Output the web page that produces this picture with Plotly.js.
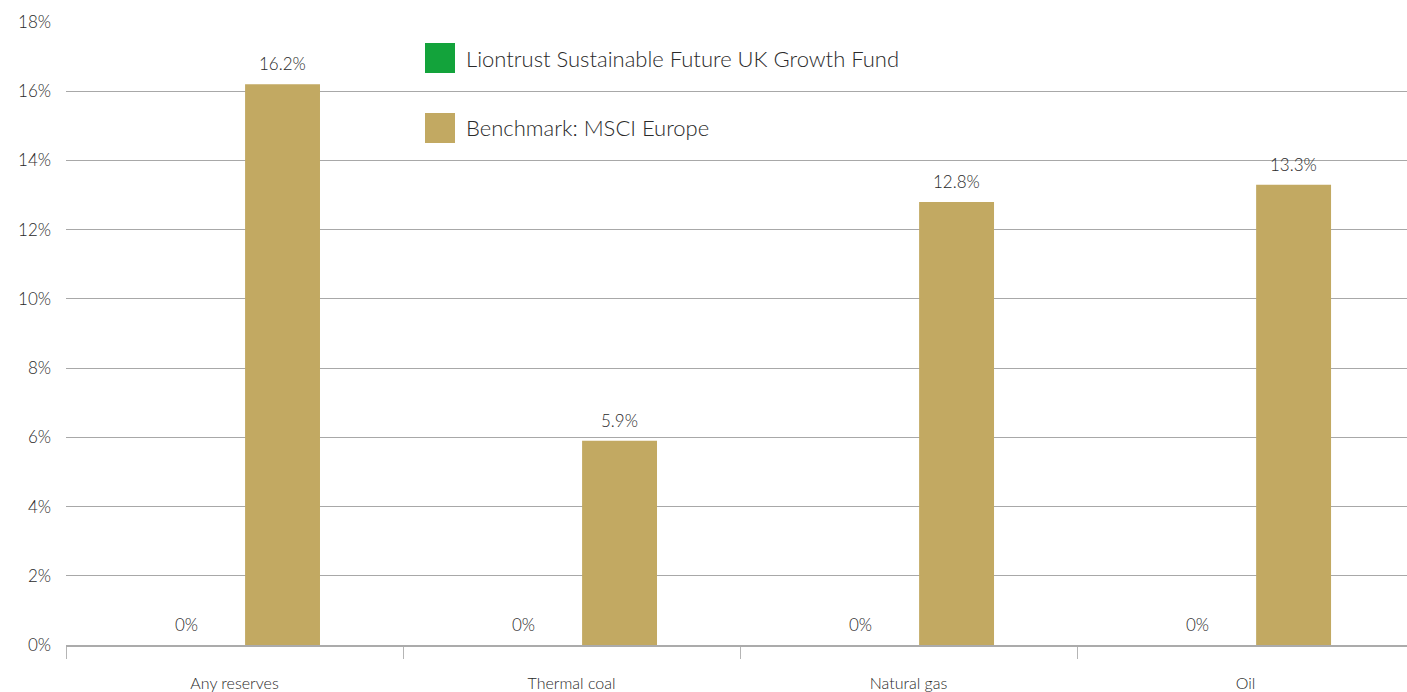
<!DOCTYPE html>
<html>
<head>
<meta charset="utf-8">
<script src="https://cdn.plot.ly/plotly-3.0.1.min.js"></script>
<style>html,body{margin:0;padding:0;background:#fff;}#chart{width:1407px;height:692px;}</style>
</head>
<body>
<div id="chart"></div>
<script>
var categories = ["Any reserves", "Thermal coal", "Natural gas", "Oil"];
var fundName = "Liontrust Sustainable Future UK Growth Fund";
var benchName = "Benchmark: MSCI Europe";
var fundValues = [0, 0, 0, 0];
var benchValues = [16.2, 5.9, 12.8, 13.3];
var yTickVals = [0, 2, 4, 6, 8, 10, 12, 14, 16, 18];
var yTickText = ["0%", "2%", "4%", "6%", "8%", "10%", "12%", "14%", "16%", "18%"];
var fundColor = "#13a33b";
var benchColor = "#c2a962";

var FONT = "Lato, 'Open Sans', sans-serif";
var TXT = "#2a2a2a";

var traces = [
  {type: "bar", name: fundName, x: categories, y: fundValues,
   marker: {color: fundColor}, hoverinfo: "none"},
  {type: "bar", name: benchName, x: categories, y: benchValues,
   marker: {color: benchColor}, hoverinfo: "none"}
];

var names = [fundName, benchName];
var colors = [fundColor, benchColor];
var shapes = [], annotations = [];
var W = 1407, H = 692, ml = 66, mr = 0, mt = 22, mb = 47;
var pw = W - ml - mr, ph = H - mt - mb;
function px(x){ return (x - ml) / pw; }
function py(y){ return (H - mb - y) / ph; }
for (var i = 0; i < names.length; i++) {
  var boxTop = 43 + i * 70;
  shapes.push({type: "rect", xref: "paper", yref: "paper",
    x0: px(425), x1: px(455), y0: py(boxTop + 30), y1: py(boxTop),
    fillcolor: colors[i], line: {width: 0}});
  annotations.push({xref: "paper", yref: "paper", x: px(464), y: py(boxTop + 15),
    xanchor: "left", yanchor: "middle", showarrow: false, text: names[i],
    font: {family: FONT, size: 22, color: TXT, weight: 300}});
}
// value labels above bars
var series = [fundValues, benchValues];
var shifts = [-48, 48];
for (var s = 0; s < series.length; s++) {
  for (var c = 0; c < categories.length; c++) {
    var v = series[s][c];
    annotations.push({xref: "x", yref: "y", x: categories[c], y: v,
      xshift: shifts[s], yshift: 8, xanchor: "center", yanchor: "bottom",
      showarrow: false, text: (v === 0 ? "0" : v.toFixed(1)) + "%",
      font: {family: FONT, size: 17, color: TXT, weight: 300}});
  }
}

var layout = {
  width: W, height: H,
  margin: {l: ml, r: mr, t: mt, b: mb, pad: 0},
  paper_bgcolor: "#fff", plot_bgcolor: "#fff",
  showlegend: false,
  barmode: "group", bargap: 0.43, bargroupgap: 0.22,
  font: {family: FONT, color: TXT},
  xaxis: {
    type: "category", range: [-0.5, 3.479],
    tickson: "boundaries", ticks: "outside", ticklen: 12, tickcolor: "#b5b5b5", tickwidth: 1,
    showline: true, linecolor: "#ababab", linewidth: 2,
    showgrid: false, ticklabelstandoff: 23,
    tickfont: {family: FONT, size: 16, color: TXT, weight: 300},
    fixedrange: true
  },
  yaxis: {
    range: [0, 18], tickvals: yTickVals, ticktext: yTickText,
    showgrid: true, gridcolor: "#a8a8a8", gridwidth: 1,
    zeroline: false, showline: false, ticks: "", ticklabelstandoff: 14,
    tickfont: {family: FONT, size: 17, color: TXT, weight: 300}, fixedrange: true
  },
  shapes: shapes,
  annotations: annotations
};

Plotly.newPlot("chart", traces, layout, {displayModeBar: false, staticPlot: true});
</script>
</body>
</html>
